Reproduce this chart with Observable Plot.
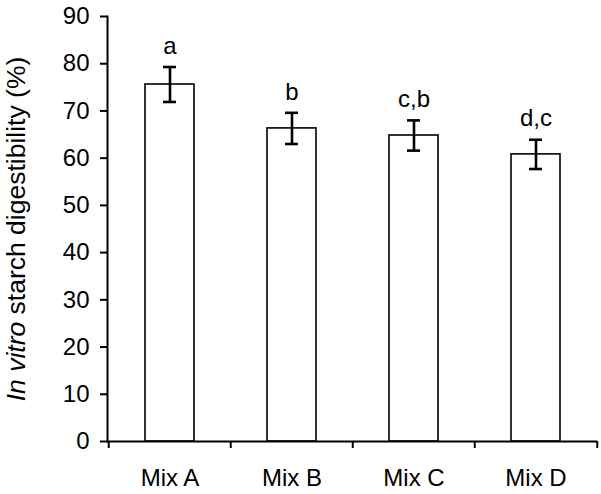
<!DOCTYPE html>
<html>
<head>
<meta charset="utf-8">
<script src="https://cdn.jsdelivr.net/npm/d3@7"></script>
<script src="https://cdn.jsdelivr.net/npm/@observablehq/plot@0.6"></script>
<style>
  html, body { margin: 0; padding: 0; background: #fff; }
  #chart svg { display: block; }
</style>
</head>
<body>
<div id="chart"></div>
<script>
const categories = ["Mix A", "Mix B", "Mix C", "Mix D"];
const means = [75.6, 66.3, 64.8, 60.8];
const errors = [3.7, 3.3, 3.2, 3.1];
const letters = ["a", "b", "c,b", "d,c"];
const yTicks = [0, 10, 20, 30, 40, 50, 60, 70, 80, 90];

const data = categories.map((c, i) => ({
  mix: c, mean: means[i], lo: means[i] - errors[i], hi: means[i] + errors[i], letter: letters[i]
}));

const W = 601, H = 494;
const mL = 107, mR = 4, mT = 16, mB = 53;
const step = (W - mL - mR) / categories.length;

const chart = Plot.plot({
  width: W,
  height: H,
  marginLeft: mL,
  marginRight: mR,
  marginTop: mT,
  marginBottom: mB,
  style: { fontFamily: "'Liberation Sans', Arial, Helvetica, sans-serif", fontSize: "24px", color: "#000", background: "#fff", overflow: "visible" },
  x: { domain: categories, paddingInner: 0.6, paddingOuter: 0.3 },
  y: { domain: [0, 90] },
  marks: [
    Plot.barY(data, { x: "mix", y: "mean", fill: "#fff", stroke: "#000", strokeWidth: 1.6 }),
    Plot.ruleX(data, { x: "mix", y1: "lo", y2: "hi", stroke: "#000", strokeWidth: 2.6 }),
    Plot.tickY(data, { x: "mix", y: "lo", stroke: "#000", strokeWidth: 2.6, insetLeft: 18, insetRight: 18 }),
    Plot.tickY(data, { x: "mix", y: "hi", stroke: "#000", strokeWidth: 2.6, insetLeft: 18, insetRight: 18 }),
    Plot.text(data, { x: "mix", y: "hi", text: "letter", dy: -21, fontSize: 24, fill: "#000" }),
    Plot.frame({ anchor: "left", stroke: "#000", strokeWidth: 2 }),
    Plot.ruleY([0], { stroke: "#000", strokeWidth: 2 }),
    // category boundary ticks below the x axis
    Plot.ruleX(categories, { x: d => d, y1: 0, y2: 0, insetBottom: -7, dx: -step / 2, stroke: "#000", strokeWidth: 2 }),
    Plot.ruleX([categories[categories.length - 1]], { x: d => d, y1: 0, y2: 0, insetBottom: -7, dx: step / 2, stroke: "#000", strokeWidth: 2 }),
    Plot.axisY({ ticks: yTicks, tickSize: 7, tickPadding: 11, tickFormat: d => String(d), fontSize: 24,
      label: null, stroke: "#000", strokeWidth: 2 }),
    Plot.axisY({ ticks: [], tickSize: 0, fontSize: 26.5,
      label: "In vitro starch digestibility (%)", labelAnchor: "center", labelArrow: "none", labelOffset: 101 }),
    Plot.axisX({ tickSize: 0, tickPadding: 27, fontSize: 24, label: null })
  ]
});

// italicize "In vitro" in the y-axis label
chart.querySelectorAll("text").forEach(t => {
  if (t.textContent === "In vitro starch digestibility (%)") {
    t.textContent = "";
    const ns = "http://www.w3.org/2000/svg";
    const a = document.createElementNS(ns, "tspan");
    a.setAttribute("font-style", "italic");
    a.textContent = "In vitro";
    const b = document.createElementNS(ns, "tspan");
    b.textContent = " starch digestibility (%)";
    t.appendChild(a);
    t.appendChild(b);
  }
});

document.getElementById("chart").appendChild(chart);
</script>
</body>
</html>
